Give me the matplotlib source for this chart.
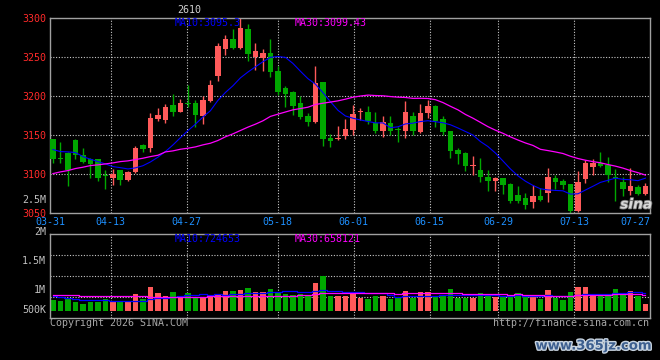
import numpy as np
import pandas as pd
import matplotlib
matplotlib.use("Agg")
import matplotlib.pyplot as plt
import matplotlib.patheffects as pe
from matplotlib.transforms import blended_transform_factory

# ── Data ────────────────────────────────────────────────────────────────────
dates = [
    "03-31", "04-01", "04-02", "04-03", "04-07", "04-08", "04-09", "04-10",
    "04-13", "04-14", "04-15", "04-16", "04-17", "04-20", "04-21", "04-22",
    "04-23", "04-24", "04-27", "04-28", "04-29", "04-30", "05-06", "05-07",
    "05-08", "05-11", "05-12", "05-13", "05-14", "05-15", "05-18", "05-19",
    "05-20", "05-21", "05-22", "05-25", "05-26", "05-27", "05-28", "05-29",
    "06-01", "06-02", "06-03", "06-04", "06-05", "06-08", "06-09", "06-10",
    "06-11", "06-12", "06-15", "06-16", "06-17", "06-18", "06-22", "06-23",
    "06-24", "06-25", "06-26", "06-29", "06-30", "07-01", "07-02", "07-03",
    "07-06", "07-07", "07-08", "07-09", "07-10", "07-13", "07-14", "07-15",
    "07-16", "07-17", "07-20", "07-21", "07-22", "07-23", "07-24", "07-27",
]

opens = [
    3145.3, 3121.0, 3127.8, 3144.0, 3124.8, 3119.6, 3119.6, 3099.0, 3095.7, 3105.5,
    3092.7, 3102.6, 3137.6, 3134.2, 3170.9, 3169.6, 3188.9, 3180.3, 3191.5, 3191.4,
    3174.8, 3194.0, 3226.1, 3259.8, 3273.5, 3262.0, 3286.3, 3250.4, 3249.1, 3255.6,
    3232.5, 3210.7, 3205.6, 3191.4, 3174.8, 3167.1, 3218.4, 3146.6, 3144.9, 3149.1,
    3156.0, 3179.5, 3179.9, 3165.8, 3155.5, 3165.8, 3157.3, 3155.5, 3174.8, 3154.3,
    3178.6, 3187.6, 3170.9, 3155.5, 3131.2, 3127.3, 3110.2, 3105.5, 3096.6, 3091.4,
    3095.3, 3087.6, 3073.5, 3070.0, 3064.9, 3072.2, 3076.5, 3095.3, 3091.4, 3087.6,
    3053.4, 3094.0, 3109.4, 3114.5, 3112.0, 3095.7, 3090.2, 3078.6, 3083.8, 3075.2,
]
highs = [
    3145.5, 3141.9, 3128.0, 3145.0, 3133.3, 3120.5, 3120.0, 3105.5, 3106.8, 3105.8,
    3104.7, 3135.9, 3138.9, 3179.0, 3185.0, 3189.7, 3203.0, 3196.6, 3214.5, 3195.3,
    3200.4, 3220.9, 3268.4, 3278.6, 3286.3, 3300.0, 3292.7, 3268.4, 3260.7, 3273.5,
    3238.9, 3213.2, 3206.8, 3200.4, 3178.6, 3238.9, 3218.6, 3151.7, 3162.0, 3170.9,
    3188.9, 3185.0, 3187.6, 3179.9, 3174.8, 3174.8, 3160.7, 3194.0, 3179.9, 3190.2,
    3195.3, 3188.9, 3174.8, 3155.8, 3133.7, 3128.6, 3123.5, 3120.9, 3105.5, 3096.6,
    3095.5, 3088.9, 3085.0, 3076.0, 3086.3, 3082.3, 3108.1, 3099.1, 3094.0, 3087.8,
    3104.3, 3118.4, 3119.6, 3128.6, 3122.2, 3106.8, 3096.6, 3108.1, 3086.3, 3088.9,
]
lows = [
    3115.0, 3115.0, 3085.5, 3119.6, 3114.0, 3095.7, 3091.9, 3081.2, 3086.3, 3086.3,
    3091.9, 3101.7, 3128.2, 3129.0, 3168.4, 3165.0, 3174.8, 3179.5, 3186.7, 3161.1,
    3164.5, 3192.3, 3218.8, 3253.0, 3260.7, 3260.7, 3245.3, 3233.8, 3232.5, 3224.8,
    3201.7, 3186.3, 3176.1, 3170.9, 3162.0, 3165.8, 3136.3, 3135.0, 3144.0, 3145.3,
    3150.4, 3169.6, 3164.5, 3153.0, 3147.9, 3150.4, 3141.4, 3146.6, 3150.4, 3153.0,
    3172.2, 3160.7, 3150.4, 3120.9, 3113.2, 3104.3, 3099.1, 3090.2, 3078.6, 3078.6,
    3074.8, 3063.6, 3063.6, 3056.0, 3057.3, 3066.2, 3064.9, 3081.0, 3081.0, 3050.9,
    3052.2, 3088.9, 3099.1, 3109.4, 3090.2, 3066.2, 3072.2, 3073.5, 3073.5, 3073.5,
]
closes = [
    3119.6, 3120.0, 3105.1, 3124.0, 3115.4, 3113.7, 3095.7, 3098.0, 3100.0, 3092.7,
    3103.4, 3133.7, 3132.5, 3172.2, 3176.1, 3186.3, 3179.9, 3191.4, 3190.0, 3175.2,
    3195.3, 3214.5, 3264.5, 3273.5, 3262.0, 3287.6, 3254.3, 3258.1, 3255.6, 3231.2,
    3205.6, 3203.0, 3187.6, 3173.5, 3167.1, 3217.1, 3145.3, 3142.7, 3145.7, 3158.1,
    3177.3, 3180.3, 3168.4, 3155.5, 3167.1, 3155.5, 3156.4, 3179.9, 3155.5, 3178.6,
    3187.6, 3168.4, 3154.3, 3129.9, 3126.1, 3110.7, 3111.1, 3096.6, 3091.4, 3095.3,
    3086.3, 3066.2, 3066.2, 3061.1, 3072.2, 3067.5, 3096.6, 3090.2, 3086.3, 3053.0,
    3090.2, 3114.5, 3114.5, 3110.7, 3099.1, 3094.9, 3081.2, 3085.0, 3074.8, 3085.0,
]
volumes = [  # thousand shares
    450, 409, 491, 368, 286, 368, 368, 491, 368, 368,
    368, 696, 491, 983, 737, 614, 777, 573, 737, 573,
    573, 573, 696, 819, 819, 859, 941, 777, 777, 901,
    737, 696, 655, 696, 655, 1146, 1446, 614, 614, 614,
    696, 532, 491, 614, 614, 491, 532, 819, 532, 777,
    777, 614, 614, 901, 532, 532, 532, 737, 696, 573,
    573, 614, 737, 614, 614, 491, 859, 532, 450, 777,
    983, 983, 614, 696, 696, 901, 655, 819, 614, 286,
]

# moving-average values before enough history is visible
ma10_head = [3131.6, 3129.0, 3128.6, 3127.8, 3122.6, 3119.2, 3116.2, 3113.2, 3109.8]
ma30_head = [3100.8, 3103.0, 3104.7, 3107.3, 3109.0, 3111.1, 3112.0, 3113.2, 3114.5,
             3116.2, 3117.1, 3118.8, 3120.5, 3122.6, 3124.3, 3128.6, 3129.9, 3132.0,
             3133.3, 3135.0, 3137.6, 3139.7, 3143.2, 3147.9, 3151.7, 3156.0, 3160.3,
             3164.1, 3168.4]
vma10_head = [614, 559, 532, 491, 450, 450, 437, 437, 409]
vma30_head = [669, 669, 669, 669, 614, 614, 614, 614, 614, 614, 614, 614, 614,
              573, 573, 573, 573, 573, 573, 573, 573,
              614, 614, 614, 614, 614, 614, 614, 614]

# values printed in the chart legends
ma10_last, ma30_last = "3095.3", "3099.43"
vma10_last, vma30_last = "724653", "658121"

tick_dates = ["03-31", "04-13", "04-27", "05-18", "06-01", "06-15", "06-29", "07-13", "07-27"]
price_ticks = [3050, 3100, 3150, 3200, 3250, 3300]
vol_labels = ["2M", "1.5M", "1M", "500K"]

# ── Style ───────────────────────────────────────────────────────────────────
BG = "black"
RED = "#ff5a5a"
GREEN = "#00a800"
BLUE = "#0000ff"
MAG = "#ff00ff"
GRID = "#c8c8c8"
SPINE = "#a0a0a0"
FONT = "DejaVu Sans Mono"
FS = 7.2

plt.rcParams["font.family"] = FONT

n = len(dates)
x = np.arange(n)
o = np.array(opens); c = np.array(closes)
h = np.array(highs); l = np.array(lows)
vol = np.array(volumes) * 1000.0
col = np.where(c >= o, RED, GREEN)

ma10 = pd.Series(closes).rolling(10).mean().to_numpy()
ma10[:9] = ma10_head
ma30 = pd.Series(closes).rolling(30).mean().to_numpy()
ma30[:29] = ma30_head
vma10 = pd.Series(vol).rolling(10).mean().to_numpy()
vma10[:9] = np.array(vma10_head) * 1000.0
vma30 = pd.Series(vol).rolling(30).mean().to_numpy()
vma30[:29] = np.array(vma30_head) * 1000.0

XL = (-0.39, n - 0.39)
grid_x = [dates.index(d) * n / (n - 1) - 0.39 for d in tick_dates]

fig = plt.figure(figsize=(6.6, 3.6), dpi=100, facecolor=BG)
ax = fig.add_axes([50 / 660, 1 - 213.3 / 360, 600 / 660, 195.3 / 360], facecolor=BG)
axv = fig.add_axes([50 / 660, 1 - 318.3 / 360, 600 / 660, 84 / 360], facecolor=BG)

for a in (ax, axv):
    a.set_xlim(*XL)
    for s in a.spines.values():
        s.set_color(SPINE)
        s.set_linewidth(1.0)
    a.set_xticks([])
    for gx in grid_x[1:-1]:
        a.axvline(gx, color=GRID, lw=0.8, ls=(0, (1, 1.5)), zorder=0)

# ── Price panel ─────────────────────────────────────────────────────────────
ax.set_ylim(price_ticks[0], price_ticks[-1])
for p in price_ticks[1:-1]:
    ax.axhline(p, color=GRID, lw=0.8, ls=(0, (1, 1.5)), zorder=0)
ax.set_yticks(price_ticks)
ax.set_yticklabels([str(p) for p in price_ticks], color="#ff2a2a", fontsize=FS)
ax.tick_params(axis="y", length=0, pad=3)

body_lo = np.minimum(o, c)
body_h = np.maximum(np.abs(c - o), 1.3)
ax.vlines(x, l, h, colors=col, lw=1.0, zorder=2)
ax.bar(x, body_h, bottom=body_lo, width=0.78, color=col, lw=0, zorder=3)
ax.plot(x, ma10, color=BLUE, lw=0.8, zorder=4)
ax.plot(x, ma30, color=MAG, lw=0.9, zorder=4)

ax.text(0.208, 0.973, "MA10:" + ma10_last, transform=ax.transAxes, color=BLUE,
        fontsize=FS, va="center", ha="left", zorder=5)
ax.text(0.408, 0.973, "MA30:" + ma30_last, transform=ax.transAxes, color=MAG,
        fontsize=FS, va="center", ha="left", zorder=5)
ax.text(-0.0067, 0.068, "2.5M", transform=ax.transAxes, color="#c0c0c0",
        fontsize=FS, va="center", ha="right")

# sina logo watermark
ax.text(0.977, 0.045, "sina", transform=ax.transAxes, color="#d8d8d8",
        fontsize=10, fontweight="bold", style="italic", family="DejaVu Sans",
        ha="center", va="center", zorder=6,
        path_effects=[pe.withStroke(linewidth=1.2, foreground="#707070")])

trans = blended_transform_factory(ax.transData, ax.transAxes)
for i, (gx, d) in enumerate(zip(grid_x, tick_dates)):
    ha = "right" if i == len(tick_dates) - 1 else "center"
    ax.text(gx, -0.045, d, transform=trans, color="#1e90ff", fontsize=FS,
            ha=ha, va="center", clip_on=False)

# ── Volume panel ────────────────────────────────────────────────────────────
vlo, vhi = -299e3, 3137e3
axv.set_ylim(vlo, vhi)
axv.set_yticks([])
for k in range(1, 4):
    axv.axhline(vlo + k * (vhi - vlo) / 4, color=GRID, lw=0.8, ls=(0, (1, 1.5)), zorder=0)
axv.bar(x, vol, width=0.78, color=col, lw=0, zorder=2)
axv.step(x, vma10, where="mid", color=BLUE, lw=0.9, zorder=3)
axv.step(x, vma30, where="mid", color=MAG, lw=0.9, zorder=3)

for lab, fy in zip(vol_labels, [1.027, 0.682, 0.337, 0.099]):
    axv.text(-0.0067, fy, lab, transform=axv.transAxes, color="#c0c0c0",
             fontsize=FS, ha="right", va="center", clip_on=False)
axv.text(0.208, 0.944, "MA10:" + vma10_last, transform=axv.transAxes, color=BLUE,
         fontsize=FS, va="center", ha="left", zorder=5)
axv.text(0.408, 0.944, "MA30:" + vma30_last, transform=axv.transAxes, color=MAG,
         fontsize=FS, va="center", ha="left", zorder=5)

# ── Header / footer text ────────────────────────────────────────────────────
fig.text(189 / 660, 1 - 10 / 360, "2610", color="#d0d0d0", fontsize=FS,
         ha="center", va="center")
fig.text(50 / 660, 1 - 323 / 360, "Copyright 2026 SINA.COM", color="#a8a8a8",
         fontsize=FS, ha="left", va="center")
fig.text(649 / 660, 1 - 323 / 360, "http://finance.sina.com.cn", color="#a8a8a8",
         fontsize=FS, ha="right", va="center")
fig.text(594 / 660, 1 - 346 / 360, "www.365jz.com", color="#3d5f8f", fontsize=9.5,
         fontweight="bold", family="DejaVu Sans", ha="center", va="center",
         path_effects=[pe.withStroke(linewidth=2.0, foreground="#c8d4e0")])

fig.savefig("out.png", dpi=100, facecolor=BG)
